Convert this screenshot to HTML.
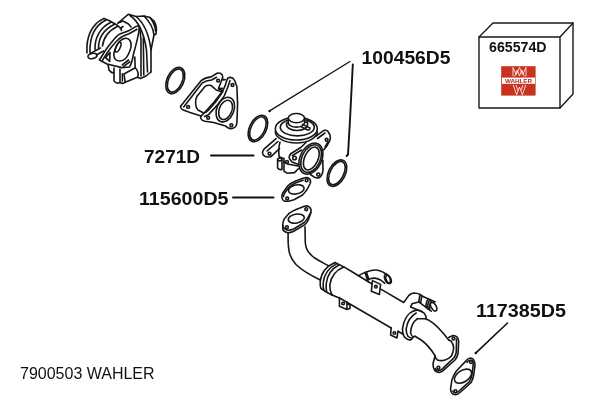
<!DOCTYPE html>
<html><head><meta charset="utf-8"><title>7900503 WAHLER</title>
<style>
html,body{margin:0;padding:0;background:#fff;}
body{width:600px;height:400px;overflow:hidden;position:relative;font-family:"Liberation Sans",Arial,sans-serif;}
svg{position:absolute;left:0;top:0;will-change:transform;}
text{font-family:"Liberation Sans",Arial,sans-serif;}
.lbl{font-weight:bold;font-size:18.5px;fill:#111;}
.ln{stroke:#111;stroke-width:1.6;fill:none;stroke-linecap:round;}
.p,.z path,.z ellipse,.z circle{vector-effect:non-scaling-stroke;}
.z path,.z ellipse,.z circle{stroke:#161616;stroke-width:1.6;fill:none;stroke-linejoin:round;stroke-linecap:round;}
.z .f{fill:#fff;}
.p{stroke:#181818;stroke-width:1.4;fill:none;stroke-linejoin:round;stroke-linecap:round;}
.pf{stroke:#181818;stroke-width:1.4;fill:#fff;stroke-linejoin:round;stroke-linecap:round;}
</style></head>
<body>
<svg width="600" height="400" viewBox="0 0 600 400">
<!-- labels -->
<text class="lbl" x="361.5" y="64" textLength="89" lengthAdjust="spacingAndGlyphs">100456D5</text>
<text class="lbl" x="144" y="163" textLength="56" lengthAdjust="spacingAndGlyphs">7271D</text>
<text class="lbl" x="139" y="205" textLength="89.5" lengthAdjust="spacingAndGlyphs">115600D5</text>
<text class="lbl" x="476" y="317" textLength="90" lengthAdjust="spacingAndGlyphs">117385D5</text>
<path class="ln" style="stroke-width:2" d="M211 155.5 H253.5 M233 197.5 H273.5"/>
<text x="20" y="378.5" style="font-size:16px;fill:#111;">7900503 WAHLER</text>

<!-- part A: throttle body -->
<g class="z" id="partA">
<path d="M87 53 C86 38 91 24 104 18.5"/>
<path d="M90 52.5 C89.5 38 94 26 106 20"/>
<path d="M95 49.5 C94.5 38 100 27.5 111 22.3"/>
<path d="M98.5 48 C98.5 38 104 29.5 114.5 24.3"/>
<path d="M102.5 46 C103.5 37 109 30.5 118 26"/>
<path d="M104 18.5 L109 20.5 L117 25 L121 28.5 L121.5 30.5"/>
<ellipse cx="92.5" cy="56" rx="4.6" ry="2.6" transform="rotate(-12 92.5 56)"/>
<path d="M90 53.6 L100.5 48 M96.5 55 L103.5 51"/>
<!-- flange band -->
<path d="M99.5 59.8 C100.1 58.9 101.8 56.3 102.9 54.5 C104.0 52.7 105.0 51.0 106.2 49.2 C107.5 47.5 109.0 45.5 110.4 43.8 C111.8 42.0 113.3 40.1 114.5 38.8 C115.7 37.4 116.6 36.5 117.5 35.7 C118.4 34.9 118.2 34.8 120.0 34.0 C121.8 33.2 125.3 32.2 128.0 31.0 C130.7 29.8 134.2 27.3 136.0 26.5 C137.8 25.7 137.9 26.0 138.5 26.3 C139.1 26.6 139.2 28.1 139.3 28.5"/>
<path d="M101.8 61.3 C102.4 60.3 104.3 57.4 105.5 55.5 C106.7 53.6 108.0 51.7 109.2 50.0 C110.5 48.3 111.8 46.7 113.0 45.2 C114.2 43.7 115.2 42.4 116.8 41.0 C118.2 39.6 120.0 38.0 122.0 36.8 C124.0 35.6 126.5 35.0 129.0 33.8 C131.5 32.5 135.7 30.1 137.0 29.3"/>
<path d="M105.6 57.6 L110 52.4 L109.7 61.4 Z"/>
<!-- flange outline right/bottom -->
<path d="M139.3 28.5 C138.5 36 136 45 133.5 54 Q132 63 129.5 67 L122 67.6 L107 64 L101.8 61.3 L99.5 59.8"/>
<!-- opening -->
<path d="M113.8 55.0 C113.7 53.3 114.0 51.8 115.0 49.5 C116.0 47.2 117.8 43.4 119.5 41.5 C121.2 39.6 123.8 38.5 125.5 38.3 C127.2 38.1 129.1 39.1 130.0 40.5 C130.9 41.9 131.3 44.2 131.1 46.5 C130.8 48.8 129.5 51.9 128.5 54.0 C127.5 56.1 126.4 57.8 125.0 59.0 C123.6 60.2 121.6 60.9 120.0 61.0 C118.4 61.1 116.5 60.5 115.5 59.5 C114.5 58.5 113.9 56.7 113.8 55.0Z"/>
<ellipse cx="118.1" cy="47.1" rx="2.1" ry="5.3" transform="rotate(24 118.1 47.1)"/>
<path d="M122.3 64.8 L128.6 60 M123.6 66.3 L129.8 61.8"/>
<!-- lower bracket -->
<path d="M108 64.5 L109 70 Q110.5 72.5 114 73.2"/>
<path d="M114 68 L114 81 Q117 84.5 120 82.3 L120 69"/>
<path d="M122.4 73.7 L122.4 81"/>
<path d="M124 74 L135.3 67.7 Q139 71.5 138 77 L125.2 82.2 Z"/>
<path d="M120 82.3 Q122.5 84.4 125.2 82.2"/>
<!-- body -->
<path d="M118 23 L128.5 14.2 L136 16.5 L144 16 L150 17.5 L154 21 Q157.5 27 156 34 L154 35 L153 40 L151 50"/>
<path d="M118 23 L123 21 L128.5 24 L131 27"/>
<path d="M120.3 28.5 L123 26.5"/>
<path d="M130 15.5 C138 21 144 33 146.5 50 L147.5 72"/>
<path d="M136 16.5 C144 23 149 34 151 50 L151 72"/>
<path d="M144 16 C150 22 153.5 30 154 35"/>
<path d="M150 17.5 C153.5 22 155.3 27 155.5 31"/>
<path d="M151 72 L146 76 L140.5 78.5 L137.5 77.3"/>
<path d="M140 30 L141 40 L141 76"/>
<path d="M143.3 38 L143.8 75"/>
<path d="M134.8 57 L135.2 67.5"/>
</g>
<!-- part B: o-ring 1 -->
<g class="z" id="partB">
<ellipse cx="175.3" cy="80.5" rx="8.4" ry="13.9" transform="rotate(24 175.3 80.5)"/>
<ellipse cx="175.3" cy="80.5" rx="6.8" ry="12.3" transform="rotate(24 175.3 80.5)"/>
</g>
<!-- part C: gaskets -->
<g class="z" id="partC">
<!-- gasket 1 -->
<path d="M180.6 106.2 L201.2 80.6 Q205 77.5 211.2 76.9 L217 73.3 Q220.5 72.3 222.3 75 Q223.5 77.5 221.8 80 L218.5 88.5 L223 91"/>
<path d="M183.7 106.9 L202 83.2 Q206 80.3 211.5 80 L216.5 77.3"/>
<path d="M180.6 106.2 Q180.3 108.5 182 109.4 L190 112.5 L201 116"/>
<path d="M195.6 103.7 Q195.5 99 197 96.2 L205 86.4 Q208 84.5 211.3 85.6 L216.2 90 L222.5 92 L216.2 101.3 L208.7 110 Q206 113 203.7 113 L198 110 Q195.8 108 195.6 103.7Z"/>
<circle cx="188.1" cy="106.9" r="1.4"/>
<circle cx="218.1" cy="80.6" r="1.4"/>
<path d="M221.8 80 L225.2 79.6 M218.7 88.6 L222.6 88.2"/>
<!-- gasket 2 -->
<path d="M226.9 80 Q228 77.2 230.3 77.4 Q233.3 77.8 234.6 80.5 L236.9 86.5 L237.6 104 L236.9 122.5 Q236.5 127 233.5 128 Q230.5 129.3 228 127.8 L225.5 126 L213.7 122.5 L205 121.2 Q201 120.5 200.6 117.5 Q200.8 115.5 203 114.2 L213.7 102.5 L222.5 91.3 L225 86.2 Z"/>
<path d="M230 80.6 L227.5 88 L224.4 95.6 L218 104.4 L208.5 114.6 L204.5 116.5"/>
<ellipse cx="225.3" cy="109.6" rx="8.6" ry="12.8" transform="rotate(22 225.3 109.6)"/>
<ellipse cx="225.6" cy="109.9" rx="6.3" ry="10" transform="rotate(22 225.6 109.9)"/>
<circle cx="232.5" cy="85" r="1.4"/>
<circle cx="208.1" cy="117.7" r="1.4"/>
<circle cx="231.3" cy="125.2" r="1.4"/>
</g>
<!-- part D: o-ring 2, 3 -->
<g class="z" id="partD">
<ellipse cx="257.9" cy="128.5" rx="8.4" ry="14.2" transform="rotate(26 257.9 128.5)"/>
<ellipse cx="257.9" cy="128.5" rx="6.8" ry="12.6" transform="rotate(26 257.9 128.5)"/>
<ellipse cx="336.9" cy="173.1" rx="8.4" ry="14.2" transform="rotate(27 336.9 173.1)"/>
<ellipse cx="336.9" cy="173.1" rx="6.8" ry="12.6" transform="rotate(27 336.9 173.1)"/>
</g>
<!-- part E: EGR valve -->
<g class="z" id="partE">
<!-- disc -->
<path d="M275.3 131.5 A21 11.5 0 0 0 317.3 131.5"/>
<ellipse cx="296.3" cy="128.7" rx="21" ry="11.3"/>
<ellipse cx="297.3" cy="127.3" rx="17" ry="8.6"/>
<path class="f" d="M286.5 123 L286.5 124.5 A10.5 6 0 0 0 307.5 124.5 L307.5 122 Z"/>
<path class="f" d="M288.2 118.5 L288.2 122.7 A8.1 4.4 0 0 0 304.5 122.7 L304.5 118.5Z"/>
<ellipse class="f" cx="296.4" cy="118.1" rx="8.1" ry="4.6"/>
<path d="M301.4 126.9 L307.6 130 M302.6 124.4 L310 128.1 M307.6 130 Q310 130.4 310 128.1"/>
<!-- left ear -->
<path d="M276 138.6 L264 149.2 Q261.5 152.5 263.3 155 Q265 157.3 268.5 157 L271 156.7 L279.5 148.7"/>
<path d="M278 141.5 L267 151"/>
<circle cx="269.5" cy="153.7" r="1.4"/>
<!-- body -->
<path d="M280 142.3 C278.5 147 278.3 151 279.3 157"/>
<path d="M277.6 160 L277.6 168 Q279.8 170.5 282 169.2 L282 160"/>
<ellipse cx="279.8" cy="159.6" rx="2.2" ry="1.3"/>
<path d="M279.3 157 L284 158.5 L284 171.2 L287 173.2 L294.5 172.6 L298.3 168.7"/>
<path d="M284 161.9 L287.5 164 L298 166"/>
<circle cx="287" cy="161.9" r="1.4"/>
<!-- port flange -->
<path d="M290.7 153.7 L300.7 147.5 L306 142.5"/>
<path d="M290.7 153.7 Q288.5 156.5 289.5 158.7 L292 161.9 L298.5 164.5"/>
<circle cx="294.5" cy="158" r="1.8"/>
<path d="M292.5 155.5 L301.5 150"/>
<path d="M315.7 136.3 L323.5 130.6 Q326 129.6 328 131.5 L330 135 Q330.8 138 329.8 140.5 L326.5 146.5 L323.5 150"/>
<path d="M317.5 138.5 L325 133 M328 142 L325 147"/>
<circle cx="326.6" cy="139.8" r="1.4"/>
<path d="M322.8 160 L323 170 Q322.5 175.5 319.5 177.5 Q317 178.6 314.5 177.3 L310.5 174.5"/>
<circle cx="318.3" cy="174.6" r="1.6"/>
<ellipse cx="310.9" cy="158.6" rx="10.8" ry="16.4" transform="rotate(25 310.9 158.6)"/>
<ellipse cx="311.1" cy="158.6" rx="9.2" ry="14.6" transform="rotate(25 311.1 158.6)"/>
<ellipse cx="311.3" cy="158.5" rx="6.7" ry="12.2" transform="rotate(25 311.3 158.5)"/>
</g>
<!-- part G: small gasket + pipe flange -->
<g class="z" id="partG">
<path d="M281.9 197.5 Q281.5 195 283.1 192.5 L287.5 186.2 Q290.5 183 295 181.2 L303 178.3 Q307 176.8 309 178.3 Q311.3 180 310.2 183.5 L307.5 188.7 Q305.5 192.3 302.5 195 L294 199.8 L288.7 201.2 L284.5 201.2 Q282.3 200.2 281.9 197.5Z"/>
<ellipse cx="296.3" cy="189.4" rx="7.9" ry="4.5" transform="rotate(-12 296.3 189.4)"/>
<circle cx="287.2" cy="198.5" r="1.4"/>
<circle cx="306.6" cy="180.2" r="1.4"/>
<path d="M283.6 196.6 Q283.6 194.5 285 192.5 L289 187.3 Q291.5 184.8 295.5 183 L303 180.2"/>
</g>
<!-- part H: pipe + cooler -->
<g class="z" id="partH">
<!-- pipe flange -->
<path d="M282.7 225 L282.9 229.5 Q283.5 231.5 287.5 232.8 Q291 232.7 293.7 231.3 L305 224.6 Q307.5 222 308.7 219 L311 212.5"/>
<path d="M282.7 225 Q282.8 221.5 284.4 218.7 L288.7 213.7 Q292 211 296.2 209.4 L304.4 206.2 Q307.8 205.3 309.6 207.3 Q311.6 209 310.9 212 L308 217.5 Q306.5 220.3 304.4 222.5 L293.7 229 Q290.5 230.4 287.5 230.2 Q283.3 229 282.7 225Z"/>
<ellipse cx="296.3" cy="218.6" rx="8.1" ry="4.5" transform="rotate(-10 296.3 218.6)"/>
<circle cx="306.2" cy="209.2" r="1.4"/>
<circle cx="286.9" cy="227.2" r="1.4"/>
<!-- pipe -->
<path d="M288.1 233.1 L288.1 240 C288.3 252 290 258 296 264.5 C302 270.5 310 275 320.3 280"/>
<path d="M305 226.9 L305.3 243 C306 250 308.5 253 314 257.5 C320 261.5 325 263.8 328.3 265.7"/>
<!-- collar 1 -->
<path d="M335 262.5 C327 266 321 273 320.2 282 Q320 286.5 321 288.5 L326.2 292 L332 295"/>
<path d="M337 263.6 C329 267.5 324 274 323.2 283 Q323 287 323.7 289.5"/>
<path d="M339.4 264.8 C332 268.5 327 275 326.2 284 Q326 288 326.6 291.5"/>
<path d="M343.7 266.9 C336 270 331 276 329.8 285 Q329.5 290.5 332 295"/>
<path d="M335 262.5 L343.7 266.9"/>
<!-- cooler body -->
<path d="M343.7 266.9 L351.2 271.3 L367.5 281.2 L381.2 289.4 L403.7 302.5 L408.7 295.6 Q411 293.2 413.7 293 Q417.5 293 420 294.4 L422.5 296.2 L435.2 302"/>
<path d="M332 295 L340 298.2 L391.2 328 M398 331.3 L403.5 334.5"/>
<!-- tab 1 -->
<path d="M339.4 297.5 L339.4 306.3 L346.9 309.4 L346.9 302 M347 303.6 L350 305 L350 308.6 L346.9 309.4"/>
<circle cx="343.1" cy="303.5" r="1.3"/>
<!-- hose fitting 1 -->
<path d="M358.7 275.7 C362 273.5 364 272.5 366.2 271.9 C370 270.5 373 269.8 376.2 270 Q380 270.5 382.5 271.9 L386.5 274.3"/>
<path d="M367.5 280.6 Q368.3 279.3 370 278.7 Q372.5 278 375 278.1 Q378 278.5 380.6 280 L384.6 283.2"/>
<path d="M365 272.5 L367.5 280.3 M366.4 271.9 L368.8 279.3"/>
<ellipse cx="387.4" cy="278.8" rx="2.5" ry="4.8" transform="rotate(-25 387.4 278.8)"/>
<ellipse cx="388.6" cy="279.3" rx="2.3" ry="4.3" transform="rotate(-25 388.6 279.3)"/>
<!-- tab 2 -->
<path class="f" d="M372.5 280.6 L380.6 284.4 L379.4 294.4 L371.3 291.3 Z"/>
<circle cx="375.9" cy="286.7" r="1.3"/>
<!-- hose fitting 2 -->
<path d="M418.7 301.9 L412 303.8 L410.6 306.9 L422.3 311.8"/>
<path d="M418.7 301.9 L431.2 311.2"/>
<path d="M420 294.6 L418.8 301.5 M421.9 295.7 L420.6 303"/>
<ellipse cx="433.7" cy="306.7" rx="2.5" ry="4.7" transform="rotate(-30 433.7 306.7)"/>
<path d="M428.4 299 Q425.3 302 426.2 307.6 M430 299.7 Q427 303 428 309 M431.8 300.5 Q428.8 304 429.8 310.2"/>
<!-- collar 2 -->
<path d="M414.4 310.6 C408 313 403.5 320 402.5 328.7 Q402.5 335 405 337.5 Q407 339.7 410 340"/>
<path d="M414.4 310.6 Q418 309.8 421.2 311.2 Q424.5 312.5 425.6 315.5 L426.3 318.8"/>
<path d="M416.2 313 C411 316 407.2 322 406.2 328.7 Q406 333.5 408 336.2 Q409.5 337.7 411.2 338"/>
<path d="M417.5 318.7 C413.5 321.5 411 326 410.6 332.5 Q411 335.5 413 336.9 L415 336.3"/>
<path d="M410 340 Q412 339.8 413.2 337"/>
<!-- tab 3 -->
<path d="M391.2 328 L390.6 335 L396.9 338 L398 331.3"/>
<circle cx="394.4" cy="333" r="1.3"/>
<!-- exit pipe -->
<path d="M417.5 318.7 L425 318.7 C431 320 438 327 443.7 333.7 L448.7 340"/>
<path d="M415 336.3 L421.2 340 C426 343.5 431 349 435 355.6"/>
<!-- end flange -->
<path d="M448.7 337.5 L452.5 335.6 Q455 335.2 456.9 336.9 Q458.6 338.5 458.7 341.3 L458 353.7 Q457 357.5 455 360 L442.5 371.2 Q440.5 372.7 438.7 372.5 Q435.5 371.8 434.4 370 Q433 367 433 363.7 L435 356"/>
<path d="M456.6 339 L456.2 352.5 Q455.5 356 453.7 358.2 L441.8 369.3 Q440 370.7 438.2 370.6 Q436 370 435.3 368.6"/>
<path d="M435 355.6 Q435.5 359 437.5 360 Q441 361.3 445 360 Q449 358.7 451.2 356.2 Q453.3 353 453.7 347.5 Q453 343.5 451.2 341.2 L448.7 340"/>
<circle cx="453.5" cy="338.5" r="1.4"/>
<circle cx="438.4" cy="367.7" r="1.4"/>
</g>
<!-- part I: end gasket -->
<g class="z" id="partI">
<path d="M466.2 360.6 Q468.5 358 470.6 358 Q473 358.3 474 360.3 Q475.2 362.5 475 365 L473.7 375 Q473 379 471.2 382.5 L460 392.5 Q457.5 394.7 455.6 394.8 Q453 394.6 451.8 393 Q450.4 391 450.6 388.7 L451.9 380 Q453.5 375 456.2 371.2 Z"/>
<path d="M467 362.3 Q469 360 470.8 360 Q472.5 360.3 473 362 L473.2 365 L472 374.6 Q471.3 378.3 469.7 381.3 L459 391 Q457 392.7 455.6 392.8 Q453.5 392.5 452.8 391"/>
<ellipse cx="463" cy="376.2" rx="9.6" ry="5.7" transform="rotate(-33 463 376.2)"/>
<circle cx="471" cy="361.9" r="1.4"/>
<circle cx="455.4" cy="391.2" r="1.4"/>
</g>
<!-- leader lines -->
<g id="leaders">
<path class="ln" style="stroke-width:1.25" d="M350 61.5 L270 110.6"/>
<circle cx="269.6" cy="111" r="1.3" fill="#111"/>
<path class="ln" style="stroke-width:1.9" d="M352.8 64.5 L350 120 L348 154.5 L346.6 156"/>
<path class="ln" d="M507.5 323 L476.2 352.6"/>
<circle cx="475.8" cy="353" r="1.3" fill="#111"/>
</g>
<!-- box -->
<g id="box">
<path class="pf" d="M479 37 L493 23 L573 23 L573 94 L560 108 L479 108 Z"/>
<path class="p" d="M479 37 L560 37 L560 108 M560 37 L573 23"/>
<text x="489" y="52.4" textLength="57.5" lengthAdjust="spacingAndGlyphs" style="font-weight:bold;font-size:13.8px;fill:#111;">665574D</text>
<rect x="501.2" y="66.2" width="34.4" height="29.4" fill="#c9321f"/>
<g fill="none" stroke="#fff" stroke-width="0.8" stroke-linejoin="miter">
<path d="M513 76.5 L513 67.5 L516.3 74.5 L519.5 67.5 L522.7 74.5 L526 67.5 L526 76.5"/>
<path d="M514.8 76.5 L517.2 70 L519.5 76 L521.8 70 L524.2 76.5"/>
<path d="M513.3 85 L516.6 94.8 L519.5 87 L522.4 94.8 L525.7 85"/>
<path d="M516 85 L518 90.5 M523 85 L521 90.5"/>
</g>
<rect x="502" y="77.6" width="33" height="6.2" fill="#fff"/>
<text x="518.5" y="83" text-anchor="middle" textLength="27" lengthAdjust="spacingAndGlyphs" style="font-weight:bold;font-size:6.2px;fill:#b02a1c;">WAHLER</text>
</g>
</svg>
</body></html>
